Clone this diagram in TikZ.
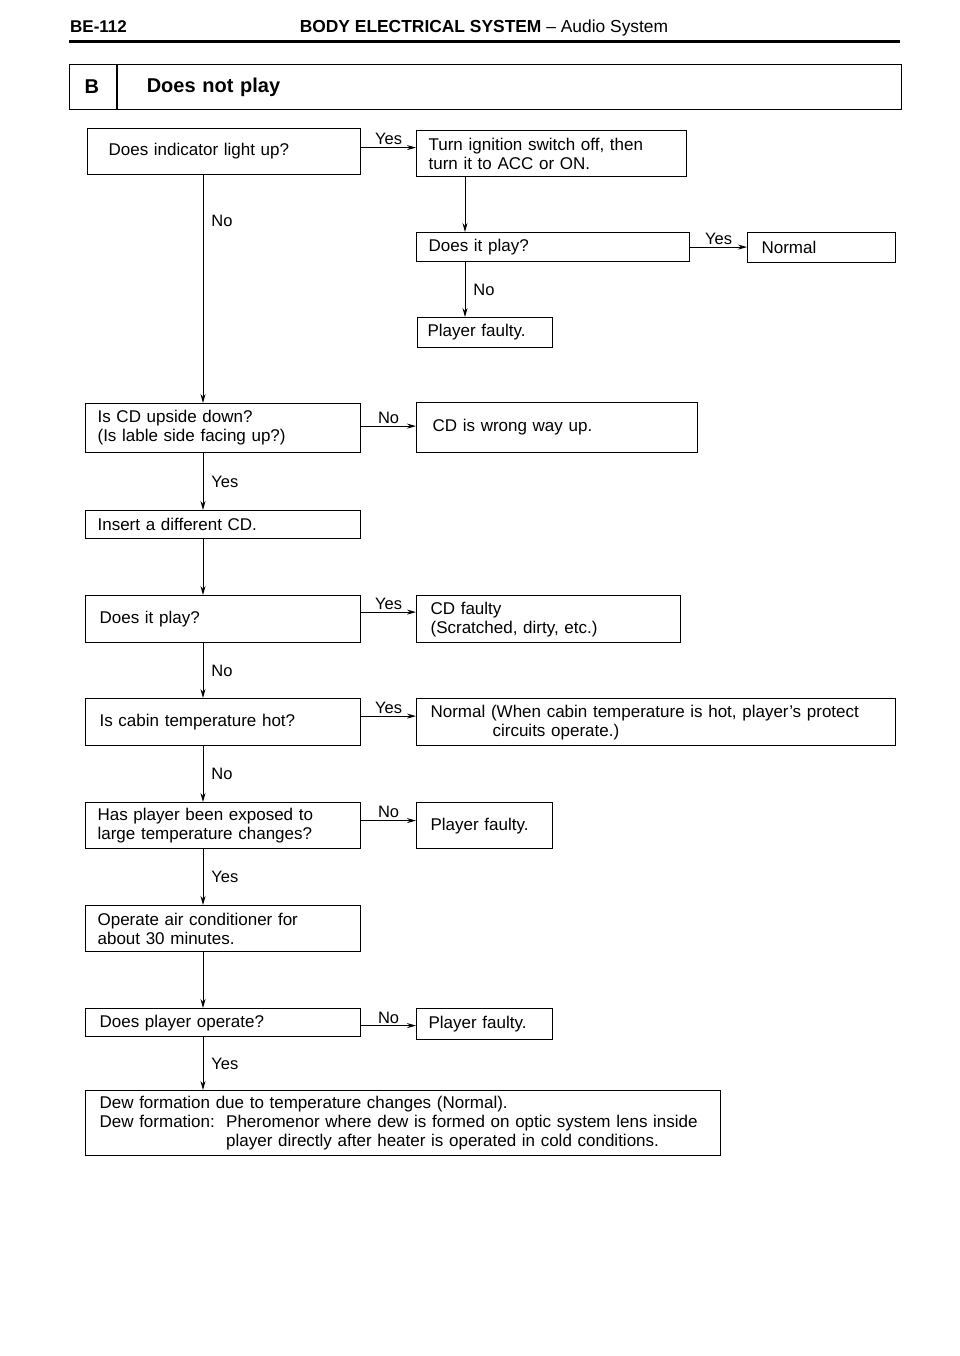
\documentclass[tikz,border=0pt]{standalone}
\usepackage{fontspec}
\setmainfont{Liberation Sans}
\usetikzlibrary{arrows.meta}
\begin{document}
\begin{tikzpicture}[x=1pt,y=-1pt,
  box/.style={draw, line width=1.2pt, anchor=north west, align=left, inner ysep=0pt,
    font=\fontsize{17}{19}\selectfont},
  arr/.style={line width=0.9pt, -{Stealth[length=9pt,width=5pt]}},
  lbl/.style={font=\fontsize{16.5}{18}\selectfont, inner sep=2pt},
  vl/.style={lbl, right, xshift=6pt}]
\useasboundingbox (0,0) rectangle (960,1356);
\fill[white] (0,0) rectangle (960,1356);
% header
\node[anchor=base west, inner sep=0pt, font=\bfseries\fontsize{17}{19}\selectfont] (pg) at (70,33) {BE-112};
\node[anchor=base, inner sep=0pt, font=\fontsize{17.4}{19}\selectfont] (title) at (484,33) {\textbf{BODY ELECTRICAL SYSTEM} -- Audio System};
\draw[line width=3pt] (69,42) -- (900,42);
\node[box, minimum height=45pt, text width=17pt, inner xsep=15pt, font=\bfseries\fontsize{20}{22}\selectfont] (hB) at (69,64) {B};
\node[box, minimum height=45pt, text width=726pt, inner xsep=29pt, font=\bfseries\fontsize{20}{22}\selectfont, anchor=north west] (hT) at (hB.north east) {Does not play};
\coordinate (sp) at (203,0);
\coordinate (rs) at (465,0);
% boxes
\node[box, minimum height=46pt, text width=231pt, inner xsep=21pt] (b1) at (87,128) {Does indicator light up?};
\node[box, minimum height=46pt, text width=246pt, inner xsep=12pt] (b2) at (416,130) {Turn ignition switch off, then\\turn it to ACC or ON.};
\node[box, minimum height=29pt, text width=249pt, inner xsep=12pt] (b3) at (416,232) {Does it play?};
\node[box, minimum height=30pt, text width=120pt, inner xsep=14pt] (b4) at (747,232) {Normal};
\node[box, minimum height=30pt, text width=115pt, inner xsep=10pt] (b5) at (417,317) {Player faulty.};
\node[box, minimum height=49pt, text width=251pt, inner xsep=12pt] (b6) at (85,403) {Is CD upside down?\\(Is lable side facing up?)};
\node[box, minimum height=50pt, text width=249pt, inner xsep=16pt] (b7) at (416,402) {CD is wrong way up.};
\node[box, minimum height=28pt, text width=251pt, inner xsep=12pt] (b8) at (85,510) {Insert a different CD.};
\node[box, minimum height=47pt, text width=247pt, inner xsep=14pt] (b9) at (85,595) {Does it play?};
\node[box, minimum height=47pt, text width=236pt, inner xsep=14pt] (b10) at (416,595) {CD faulty\\(Scratched, dirty, etc.)};
\node[box, minimum height=47pt, text width=247pt, inner xsep=14pt] (b11) at (85,698) {Is cabin temperature hot?};
\node[box, minimum height=47pt, text width=451pt, inner xsep=14pt] (b12) at (416,698) {Normal (When cabin temperature is hot, player's protect\\\hspace*{62pt}circuits operate.)};
\node[box, minimum height=46pt, text width=251pt, inner xsep=12pt] (b13) at (85,802) {Has player been exposed to\\large temperature changes?};
\node[box, minimum height=46pt, text width=108pt, inner xsep=14pt] (b14) at (416,802) {Player faulty.};
\node[box, minimum height=46pt, text width=251pt, inner xsep=12pt] (b15) at (85,905) {Operate air conditioner for\\about 30 minutes.};
\node[box, minimum height=28pt, text width=247pt, inner xsep=14pt] (b16) at (85,1008) {Does player operate?};
\node[box, minimum height=31pt, text width=112pt, inner xsep=12pt] (b17) at (416,1008) {Player faulty.};
\node[box, minimum height=65pt, text width=607pt, inner xsep=14pt] (b18) at (85,1090) {Dew formation due to temperature changes (Normal).\\Dew formation:\ \ Pheromenor where dew is formed on optic system lens inside\\\hphantom{Dew formation:\ \ }player directly after heater is operated in cold conditions.};
% connectors
\draw[arr] ([yshift=4pt]b1.east) -- ([yshift=4pt]b1.east -| b2.west) node[lbl, above, midway] {Yes};
\draw[arr] (b2.south -| rs) -- (b3.north -| rs);
\draw[arr] (b3.east) -- (b3.east -| b4.west) node[lbl, above, midway] {Yes};
\draw[arr] (b3.south -| rs) -- (b5.north -| rs) node[vl, midway] {No};
\draw[arr] (b1.south -| sp) -- (b6.north -| sp) node[vl, pos=0.2] {No};
\draw[arr] ([yshift=2pt]b6.east) -- ([yshift=2pt]b6.east -| b7.west) node[lbl, above, midway] {No};
\draw[arr] (b6.south -| sp) -- (b8.north -| sp) node[vl, midway] {Yes};
\draw[arr] (b8.south -| sp) -- (b9.north -| sp);
\draw[arr] ([yshift=7pt]b9.east) -- ([yshift=7pt]b9.east -| b10.west) node[lbl, above, midway] {Yes};
\draw[arr] (b9.south -| sp) -- (b11.north -| sp) node[vl, midway] {No};
\draw[arr] ([yshift=6pt]b11.east) -- ([yshift=6pt]b11.east -| b12.west) node[lbl, above, midway] {Yes};
\draw[arr] (b11.south -| sp) -- (b13.north -| sp) node[vl, midway] {No};
\draw[arr] ([yshift=5pt]b13.east) -- ([yshift=5pt]b13.east -| b14.west) node[lbl, above, midway] {No};
\draw[arr] (b13.south -| sp) -- (b15.north -| sp) node[vl, midway] {Yes};
\draw[arr] (b15.south -| sp) -- (b16.north -| sp);
\draw[arr] ([yshift=-3pt]b16.east) -- ([yshift=-3pt]b16.east -| b17.west) node[lbl, above, midway] {No};
\draw[arr] (b16.south -| sp) -- (b18.north -| sp) node[vl, midway] {Yes};
\end{tikzpicture}
\end{document}
